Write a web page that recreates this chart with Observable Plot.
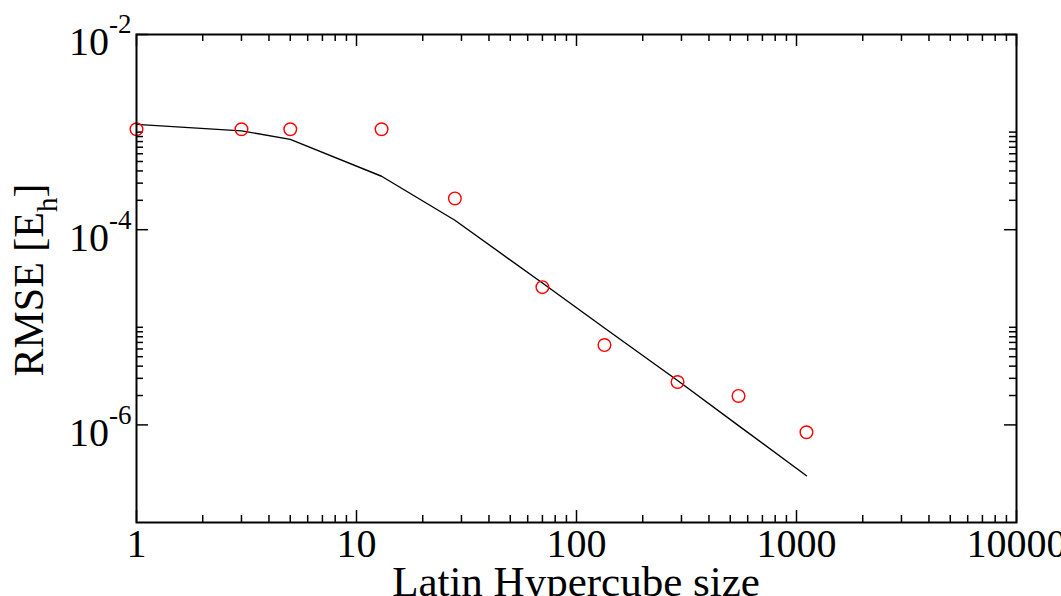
<!DOCTYPE html>
<html><head><meta charset="utf-8">
<script src="https://cdn.jsdelivr.net/npm/d3@7"></script>
<script src="https://cdn.jsdelivr.net/npm/@observablehq/plot@0.6"></script>
<style>
html,body{margin:0;padding:0;background:#fff;overflow:hidden}
</style></head><body><div id="chart"></div>
<script>
// Latin Hypercube sizes and measured RMSE (circles)
const sizes = [1, 3, 5, 13, 28, 70, 134, 288, 545, 1110];
const rmse = [1.07e-3, 1.07e-3, 1.07e-3, 1.07e-3, 2.09e-4, 2.58e-5, 6.58e-6, 2.75e-6, 1.98e-6, 8.41e-7];
// Fitted curve (solid line)
const fitSizes = [1, 3, 5, 13, 28, 70, 134, 288, 545, 1110];
const fitRmse = [1.20e-3, 1.03e-3, 8.43e-4, 3.53e-4, 1.25e-4, 2.84e-5, 9.83e-6, 2.85e-6, 9.84e-7, 3.01e-7];
// Ticks
const xMajorTicks = [1, 10, 100, 1000, 10000];
const xTickLabels = ["1", "10", "100", "1000", "10000"];
const xMinorTicks = [2,3,4,5,6,7,8,9, 20,30,40,50,60,70,80,90, 200,300,400,500,600,700,800,900, 2000,3000,4000,5000,6000,7000,8000,9000];
const yMajorTicks = [1e-6, 1e-4, 1e-2];
const yTickLabels = ["10^-6", "10^-4", "10^-2"];
const yMinorTicks = [2e-6,3e-6,4e-6,5e-6,6e-6,7e-6,8e-6,9e-6,1e-5, 2e-4,3e-4,4e-4,5e-4,6e-4,7e-4,8e-4,9e-4,1e-3];
const xTitle = "Latin Hypercube size";
const yTitleMain = "RMSE [E";
const yTitleSub = "h";
const yTitleEnd = "]";

const W = 1061, H = 596;
const mL = 136, mR = 45, mT = 34, mB = 74;
const fw = W - mL - mR, fh = H - mT - mB;
const FONT = "'Liberation Serif', 'Times New Roman', serif";

const points = sizes.map((s, i) => ({size: s, rmse: rmse[i]}));
const fit = fitSizes.map((s, i) => ({size: s, rmse: fitRmse[i]}));

const majX = 12, minX = 7, majY = 12, minY = 7;

const chart = Plot.plot({
  width: W, height: H,
  marginLeft: mL, marginRight: mR, marginTop: mT, marginBottom: mB,
  style: {fontFamily: FONT, fontSize: "40px", background: "#fff", color: "#000", overflow: "hidden"},
  x: {type: "log", domain: [1, 10000]},
  y: {type: "log", domain: [1e-7, 1e-2]},
  marks: [
    // bottom / top x ticks (inward)
    Plot.tickX(xMajorTicks, {x: d => d, insetTop: fh - majX, stroke: "#000", strokeWidth: 1.5}),
    Plot.tickX(xMajorTicks, {x: d => d, insetBottom: fh - majX, stroke: "#000", strokeWidth: 1.5}),
    Plot.tickX(xMinorTicks, {x: d => d, insetTop: fh - minX, stroke: "#000", strokeWidth: 1.5}),
    Plot.tickX(xMinorTicks, {x: d => d, insetBottom: fh - minX, stroke: "#000", strokeWidth: 1.5}),
    // left / right y ticks (inward)
    Plot.tickY(yMajorTicks, {y: d => d, insetRight: fw - majY, stroke: "#000", strokeWidth: 1.5}),
    Plot.tickY(yMajorTicks, {y: d => d, insetLeft: fw - majY, stroke: "#000", strokeWidth: 1.5}),
    Plot.tickY(yMinorTicks, {y: d => d, insetRight: fw - minY, stroke: "#000", strokeWidth: 1.5}),
    Plot.tickY(yMinorTicks, {y: d => d, insetLeft: fw - minY, stroke: "#000", strokeWidth: 1.5}),
    Plot.axisX(xMajorTicks, {label: null, tickSize: 0, tickPadding: 6, fontSize: 40,
      tickFormat: d => xTickLabels[xMajorTicks.indexOf(d)]}),
    Plot.axisY(yMajorTicks, {label: null, tickSize: 0, tickPadding: 5, fontSize: 40, dy: 8,
      tickFormat: d => yTickLabels[yMajorTicks.indexOf(d)]}),
    Plot.line(fit, {x: "size", y: "rmse", stroke: "#000", strokeWidth: 1.4}),
    Plot.dot(points, {x: "size", y: "rmse", r: 6.3, stroke: "#ff0000", fill: "none", strokeWidth: 1.4}),
    Plot.frame({stroke: "#000", strokeWidth: 2})
  ]
});

document.getElementById("chart").appendChild(chart);

// superscript exponents on y tick labels
const NS = "http://www.w3.org/2000/svg";
chart.querySelectorAll('[aria-label="y-axis tick label"] text').forEach(t => {
  const s = t.textContent;
  const [base, exp] = s.split("^");
  t.textContent = "";
  const a = document.createElementNS(NS, "tspan");
  a.textContent = base;
  const b = document.createElementNS(NS, "tspan");
  b.textContent = exp;
  b.setAttribute("dy", "-22");
  b.setAttribute("font-size", "27");
  t.appendChild(a); t.appendChild(b);
});

const svg = d3.select(chart);
// x title
svg.append("text")
  .attr("x", mL + fw / 2).attr("y", 596)
  .attr("text-anchor", "middle")
  .attr("font-family", FONT).attr("font-size", 43).attr("fill", "#000")
  .text(xTitle);
// y title with subscript
const yt = svg.append("text")
  .attr("transform", `translate(43,${mT + fh / 2 + 2}) rotate(-90)`)
  .attr("text-anchor", "middle")
  .attr("font-family", FONT).attr("font-size", 42).attr("fill", "#000");
yt.append("tspan").text(yTitleMain);
yt.append("tspan").attr("dy", 14).attr("font-size", 29).text(yTitleSub);
yt.append("tspan").attr("dy", -14).text(yTitleEnd);
</script></body></html>
